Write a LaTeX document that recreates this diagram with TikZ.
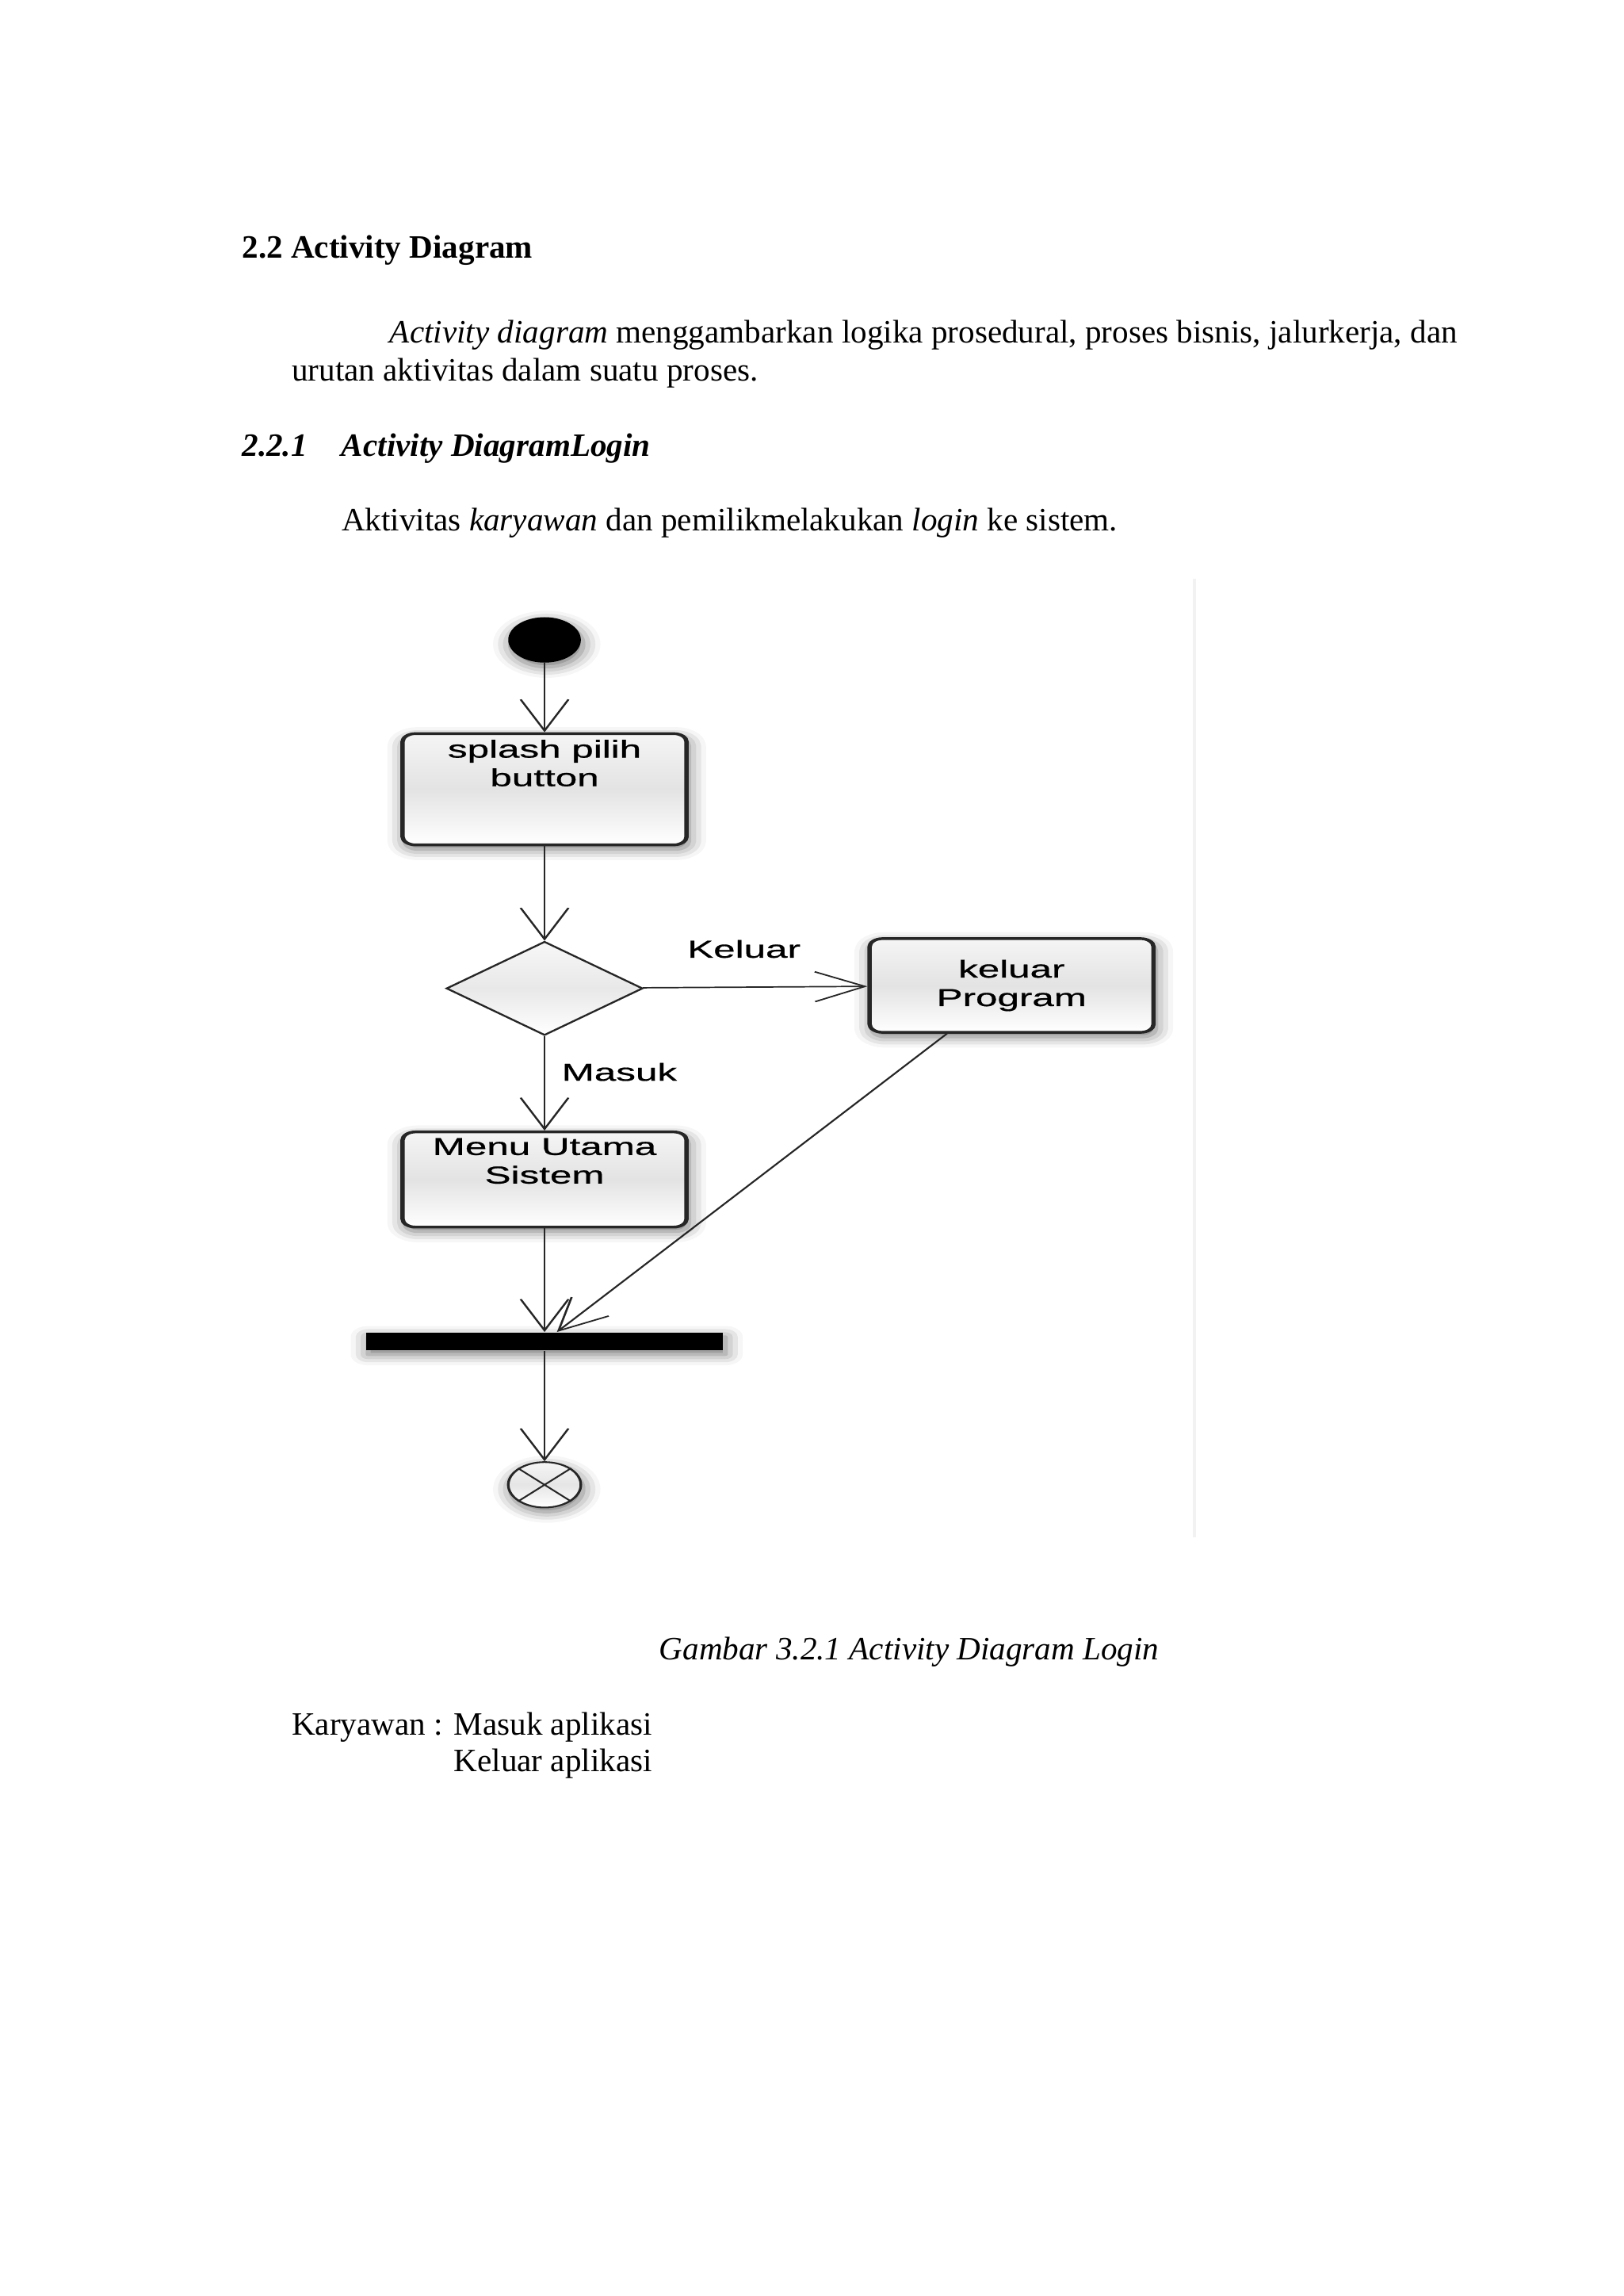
\documentclass[tikz,border=0pt]{standalone}
\usepackage{fontspec}
\setmainfont{Liberation Serif}
\newfontfamily\diagfont[FakeBold=0.6]{Liberation Sans}
\usetikzlibrary{positioning,shapes.geometric,shadows.blur,arrows.meta}

\newcommand\actfont{\diagfont\fontsize{9}{10.5}\selectfont}
\newcommand\pagefont{\fontsize{12}{14}\selectfont}

\tikzset{
  txt/.style={anchor=base west, inner sep=0pt, font=\pagefont},
  shade box/.style={blur shadow={shadow xshift=0.5pt, shadow yshift=-1.6pt,
      shadow blur radius=4pt, shadow opacity=55}},
  act/.style={draw=black!85, line width=1pt, rounded corners=3pt,
      top color=black!4, bottom color=white, middle color=black!11,
      minimum width=2.296cm, inner sep=1pt, align=center, font=\actfont, shade box},
  lbl/.style={font=\actfont, inner sep=1pt, align=center},
  flow/.style={draw=black!85, line width=0.5pt,
      -{Straight Barb[length=11.5pt, width=11pt, line width=0.5pt]}},
}

\begin{document}
\begin{tikzpicture}[x=0.018936cm, y=-0.018936cm]
  \useasboundingbox (0,0) rectangle (1109,1568);

  %% page text
  \node[txt, font=\pagefont\bfseries] (h22) at (165,176.5) {2.2 Activity Diagram};
  \node[txt] (para1) at (266,234.3) {\textit{Activity diagram} menggambarkan logika prosedural, proses bisnis, jalurkerja, dan};
  \node[txt] (para2) at (199,260) {urutan aktivitas dalam suatu proses.};
  \node[txt, font=\pagefont\bfseries\itshape] (h221) at (165,311.4) {\makebox[36.6pt][l]{2.2.1}Activity DiagramLogin};
  \node[txt] (intro) at (233,362.4) {Aktivitas \textit{karyawan} dan pemilikmelakukan \textit{login} ke sistem.};

  %% edge of the pasted picture
  \draw[black!5, line width=1.2pt] (816,395) -- (816,1050);

  %% activity diagram (picture is stretched sideways)
  \begin{scope}[transform canvas={shift={(372,0)}, xscale=1.6}]
    %% start
    \node[circle, fill=black, minimum size=0.587cm, inner sep=0pt, shade box] (start) at (0,437) {};
    %% splash pilih button
    \node[act, minimum height=1.439cm,
          label={[lbl, anchor=north, inner sep=2.6pt]north:{splash pilih\\button}}] (splash) at (0,539) {};
    %% decision
    \node[diamond, draw=black!85, line width=0.6pt, minimum width=1.59cm, minimum height=1.212cm,
          inner sep=0pt, top color=black!3, bottom color=white, middle color=black!9] (dec) at (0,675) {};
    %% keluar program
    \node[act, minimum height=1.212cm] (kel) at (199.4,673) {keluar\\Program};
    %% menu utama
    \node[act, minimum height=1.231cm,
          label={[lbl, anchor=north, inner sep=2.6pt]north:{Menu Utama\\Sistem}}] (menu) at (0,805.5) {};
    %% join bar
    \node[rectangle, fill=black, minimum width=2.888cm, minimum height=0.227cm,
          inner sep=0pt, shade box] (bar) at (0,916) {};
    %% end
    \node[circle, draw=black!85, line width=0.6pt, minimum size=0.587cm, inner sep=0pt,
          top color=black!4, bottom color=white, middle color=black!10, shade box] (end) at (0,1014) {};
    \draw[black!85, line width=0.5pt] (end.45) -- (end.225) (end.135) -- (end.-45);

    %% flows
    \draw[flow] (start) -- (splash);
    \draw[flow] (splash) -- (dec);
    \draw[flow] (dec) -- (kel) node[lbl, pos=0.45, above=9.5pt] {Keluar};
    \draw[flow] (dec) -- (menu) node[lbl, pos=0.38, right=2.7pt] {Masuk};
    \draw[flow] (menu) -- (bar);
    \draw[flow] (kel.230) -- ([xshift=0.1cm]bar.north);
    \draw[flow] (bar) -- (end);
  \end{scope}

  %% caption and actor list
  \node[txt, font=\pagefont\itshape] (caption) at (450,1133.5) {Gambar 3.2.1 Activity Diagram Login};
  \node[txt] (actor) at (199,1185) {Karyawan : Masuk aplikasi};
  \node[txt] (actor2) at (199,1210) {\phantom{Karyawan : }Keluar aplikasi};
\end{tikzpicture}
\end{document}
